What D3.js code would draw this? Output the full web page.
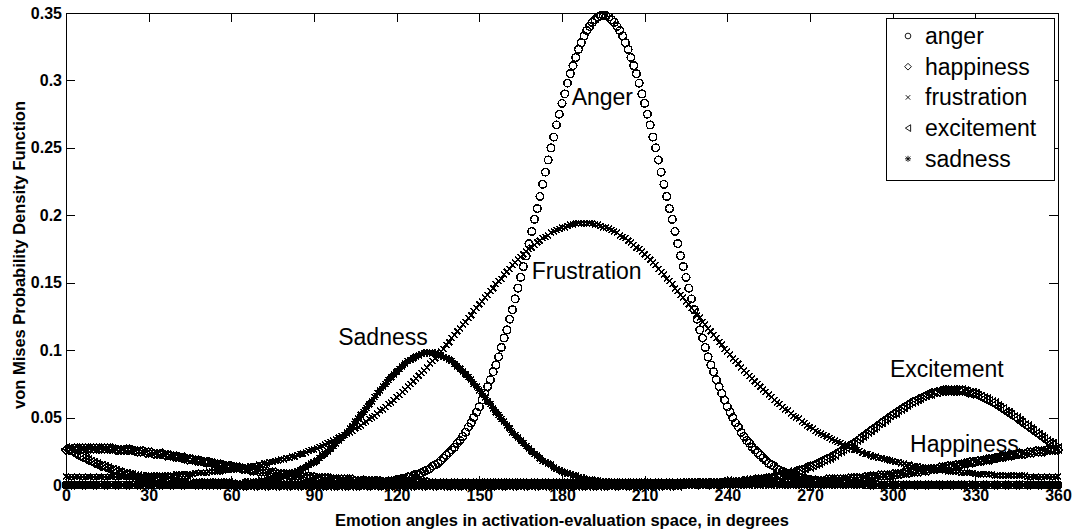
<!DOCTYPE html>
<html><head><meta charset="utf-8">
<script src="https://cdn.jsdelivr.net/npm/d3@7"></script>
<style>
html,body{margin:0;padding:0;background:#fff;}
svg{display:block;font-family:"Liberation Sans",Arial,Helvetica,sans-serif;}
</style></head><body>
<svg id="chart" width="1072" height="532"></svg>
<script>
// Emotion angle (degrees), one sample per degree
const angles = d3.range(0, 361);

const anger = [
0,0,0,0,0,0,0,0,0,0, 0,0,0,0,0,0,0,0,0,0, 0,0,0,0,0,0,0,0,0,0, 0,0,0,0,0,0,0,0,0,0, 0,0,0,0,0,0,0,0,0,0,
0,0,0,0,0,0,0,0,0,0, 0,0,0,0,0,0,0,0,0,0, 0,0,0,0,0,0,0,0,0,0, 0,0,0,0,0,0,0,0,0,0, 0,0,0,0,0,0,0,0,0,0,
0,.001,.001,.001,.001,.001,.001,.001,.001,.001,
.001,.001,.002,.002,.002,.002,.002,.003,.003,.003,
.004,.004,.005,.005,.006,.006,.007,.008,.008,.009,
.010,.011,.012,.014,.015,.016,.018,.020,.022,.024,
.026,.028,.031,.033,.036,.039,.043,.046,.050,.054,
.058,.063,.068,.073,.078,.084,.089,.095,.102,.109,
.115,.123,.130,.138,.146,.154,.162,.170,.179,.188,
.197,.205,.214,.223,.232,.241,.250,.258,.267,.275,
.283,.290,.298,.305,.311,.317,.323,.328,.333,.337,
.340,.343,.345,.347,.348,.348,.348,.347,.345,.343,
.340,.337,.333,.328,.323,.317,.311,.305,.298,.290,
.283,.275,.267,.258,.250,.241,.232,.223,.214,.205,
.197,.188,.179,.170,.162,.154,.146,.138,.130,.123,
.115,.109,.102,.095,.089,.084,.078,.073,.068,.063,
.058,.054,.050,.046,.043,.039,.036,.033,.031,.028,
.026,.024,.022,.020,.018,.016,.015,.014,.012,.011,
.010,.009,.008,.008,.007,.006,.006,.005,.005,.004,
.004,.003,.003,.003,.002,.002,.002,.002,.002,.001,
.001,.001,.001,.001,.001,.001,.001,.001,.001,.001,
0,0,0,0,0,0,0,0,0,0, 0,0,0,0,0,0,0,0,0,0, 0,0,0,0,0,0,0,0,0,0, 0,0,0,0,0,0,0,0,0,0,
0,0,0,0,0,0,0,0,0,0, 0,0,0,0,0,0,0,0,0,0, 0,0,0,0,0,0,0,0,0,0,
0];

const happiness = [
.026,.026,.026,.027,.027,.027,.027,.027,.027,.027,
.027,.027,.027,.027,.027,.027,.027,.027,.026,.026,
.026,.026,.026,.026,.026,.025,.025,.025,.025,.024,
.024,.024,.023,.023,.023,.023,.022,.022,.022,.021,
.021,.021,.020,.020,.019,.019,.019,.018,.018,.018,
.017,.017,.017,.016,.016,.015,.015,.015,.014,.014,
.014,.013,.013,.013,.012,.012,.012,.011,.011,.011,
.010,.010,.010,.010,.009,.009,.009,.008,.008,.008,
.008,.007,.007,.007,.007,.007,.006,.006,.006,.006,
.006,.005,.005,.005,.005,.005,.005,.004,.004,.004,
.004,.004,.004,.004,.004,.003,.003,.003,.003,.003,
.003,.003,.003,.003,.003,.002,.002,.002,.002,.002,
.002,.002,.002,.002,.002,.002,.002,.002,.002,.002,
.002,.002,.001,.001,.001,.001,.001,.001,.001,.001,
.001,.001,.001,.001,.001,.001,.001,.001,.001,.001,
.001,.001,.001,.001,.001,.001,.001,.001,.001,.001,
.001,.001,.001,.001,.001,.001,.001,.001,.001,.001,
.001,.001,.001,.001,.001,.001,.001,.001,.001,.001,
.001,.001,.001,.001,.001,.001,.001,.001,.001,.001,
.001,.001,.001,.001,.001,.001,.001,.001,.001,.001,
.001,.001,.001,.001,.001,.001,.001,.001,.001,.001,
.001,.001,.001,.001,.001,.001,.001,.001,.001,.001,
.001,.001,.001,.001,.001,.001,.001,.001,.001,.001,
.001,.001,.001,.001,.001,.001,.001,.001,.001,.001,
.001,.001,.001,.001,.001,.001,.001,.001,.001,.002,
.002,.002,.002,.002,.002,.002,.002,.002,.002,.002,
.002,.002,.002,.002,.002,.002,.003,.003,.003,.003,
.003,.003,.003,.003,.003,.003,.004,.004,.004,.004,
.004,.004,.004,.004,.005,.005,.005,.005,.005,.005,
.006,.006,.006,.006,.006,.007,.007,.007,.007,.007,
.008,.008,.008,.008,.009,.009,.009,.010,.010,.010,
.010,.011,.011,.011,.012,.012,.012,.013,.013,.013,
.014,.014,.014,.015,.015,.015,.016,.016,.017,.017,
.017,.018,.018,.018,.019,.019,.019,.020,.020,.021,
.021,.021,.022,.022,.022,.023,.023,.023,.023,.024,
.024,.024,.025,.025,.025,.025,.026,.026,.026,.026,
.026];

const frustration = [
.006,.006,.006,.006,.006,.006,.006,.006,.006,.006,
.006,.006,.006,.006,.006,.006,.006,.006,.006,.006,
.006,.006,.006,.006,.006,.006,.006,.006,.007,.007,
.007,.007,.007,.007,.007,.007,.007,.007,.007,.007,
.008,.008,.008,.008,.008,.008,.008,.009,.009,.009,
.009,.009,.010,.010,.010,.010,.010,.011,.011,.011,
.011,.012,.012,.012,.013,.013,.013,.014,.014,.014,
.015,.015,.016,.016,.017,.017,.018,.018,.019,.019,
.020,.020,.021,.021,.022,.023,.023,.024,.025,.026,
.026,.027,.028,.029,.030,.031,.032,.033,.034,.035,
.036,.037,.038,.039,.040,.042,.043,.044,.046,.047,
.049,.050,.051,.053,.055,.056,.058,.060,.061,.063,
.065,.067,.069,.071,.073,.075,.077,.079,.081,.083,
.085,.087,.090,.092,.094,.097,.099,.101,.104,.106,
.109,.111,.114,.116,.119,.121,.124,.126,.129,.131,
.134,.136,.139,.141,.144,.146,.149,.151,.153,.156,
.158,.160,.163,.165,.167,.169,.171,.173,.175,.176,
.178,.180,.181,.183,.184,.185,.187,.188,.189,.190,
.191,.191,.192,.193,.193,.194,.194,.194,.194,.194,
.194,.194,.193,.193,.192,.191,.191,.190,.189,.188,
.187,.185,.184,.183,.181,.180,.178,.176,.175,.173,
.171,.169,.167,.165,.163,.160,.158,.156,.153,.151,
.149,.146,.144,.141,.139,.136,.134,.131,.129,.126,
.124,.121,.119,.116,.114,.111,.109,.106,.104,.101,
.099,.097,.094,.092,.090,.087,.085,.083,.081,.079,
.077,.075,.073,.071,.069,.067,.065,.063,.061,.060,
.058,.056,.055,.053,.051,.050,.049,.047,.046,.044,
.043,.042,.040,.039,.038,.037,.036,.035,.034,.033,
.032,.031,.030,.029,.028,.027,.026,.026,.025,.024,
.023,.023,.022,.021,.021,.020,.020,.019,.019,.018,
.018,.017,.017,.016,.016,.015,.015,.014,.014,.014,
.013,.013,.013,.012,.012,.012,.011,.011,.011,.011,
.010,.010,.010,.010,.010,.009,.009,.009,.009,.009,
.008,.008,.008,.008,.008,.008,.008,.007,.007,.007,
.007,.007,.007,.007,.007,.007,.007,.007,.007,.006,
.006,.006,.006,.006,.006,.006,.006,.006,.006,.006,
.006];

const excitement = [
.027,.026,.025,.023,.022,.021,.020,.019,.018,.017,
.016,.015,.014,.014,.013,.012,.011,.011,.010,.009,
.009,.008,.008,.007,.007,.006,.006,.005,.005,.005,
.004,.004,.004,.004,.003,.003,.003,.003,.002,.002,
.002,.002,.002,.002,.002,.001,.001,.001,.001,.001,
.001,.001,.001,.001,.001,.001,.001,.001,.001,.001,
0,0,0,0,0,0,0,0,0,0, 0,0,0,0,0,0,0,0,0,0, 0,0,0,0,0,0,0,0,0,0, 0,0,0,0,0,0,0,0,0,0,
0,0,0,0,0,0,0,0,0,0, 0,0,0,0,0,0,0,0,0,0, 0,0,0,0,0,0,0,0,0,0, 0,0,0,0,0,0,0,0,0,0,
0,0,0,0,0,0,0,0,0,0, 0,0,0,0,0,0,0,0,0,0, 0,0,0,0,0,0,0,0,0,0, 0,0,0,0,0,0,0,0,0,0,
0,0,0,0,0,0,0,0,0,0, 0,0,0,0,0,0,0,0,0,0, 0,0,0,0,0,0,0,0,0,0, 0,0,0,0,0,0,0,0,0,0,
0,0,0,.001,.001,.001,.001,.001,.001,.001,
.001,.001,.001,.001,.001,.001,.001,.001,.002,.002,
.002,.002,.002,.002,.002,.003,.003,.003,.003,.004,
.004,.004,.004,.005,.005,.005,.006,.006,.007,.007,
.008,.008,.009,.009,.010,.011,.011,.012,.013,.014,
.014,.015,.016,.017,.018,.019,.020,.021,.022,.023,
.025,.026,.027,.028,.030,.031,.032,.034,.035,.037,
.038,.040,.041,.043,.044,.046,.047,.049,.050,.052,
.053,.054,.056,.057,.058,.060,.061,.062,.063,.064,
.065,.066,.067,.068,.068,.069,.069,.070,.070,.070,
.070,.070,.070,.070,.070,.070,.069,.069,.068,.068,
.067,.066,.065,.064,.063,.062,.061,.060,.058,.057,
.056,.054,.053,.052,.050,.049,.047,.046,.044,.043,
.041,.040,.038,.037,.035,.034,.032,.031,.030,.028,
.027];

const sadness = [
0,0,0,0,0,0,0,0,0,0, 0,0,0,0,0,0,0,0,0,0, 0,0,0,0,0,0,0,0,0,0, 0,0,0,0,0,0,0,0,0,0, 0,0,0,0,0,0,0,0,0,0,
0,0,0,0,0,.001,.001,.001,.001,.001,
.001,.001,.001,.001,.001,.002,.002,.002,.002,.002,
.003,.003,.003,.004,.004,.004,.005,.005,.006,.007,
.007,.008,.009,.009,.010,.011,.012,.013,.015,.016,
.017,.018,.020,.022,.023,.025,.027,.029,.031,.033,
.035,.037,.039,.042,.044,.047,.049,.052,.054,.057,
.060,.062,.065,.068,.070,.073,.075,.078,.080,.082,
.084,.086,.088,.090,.092,.093,.094,.095,.096,.097,
.098,.098,.098,.098,.098,.097,.096,.095,.094,.093,
.092,.090,.088,.086,.084,.082,.080,.078,.075,.073,
.070,.068,.065,.062,.060,.057,.054,.052,.049,.047,
.044,.042,.039,.037,.035,.033,.031,.029,.027,.025,
.023,.022,.020,.018,.017,.016,.015,.013,.012,.011,
.010,.009,.009,.008,.007,.007,.006,.005,.005,.004,
.004,.004,.003,.003,.003,.002,.002,.002,.002,.002,
.001,.001,.001,.001,.001,.001,.001,.001,.001,.001,
0,0,0,0,0,0,0,0,0,0, 0,0,0,0,0,0,0,0,0,0, 0,0,0,0,0,0,0,0,0,0, 0,0,0,0,0,0,0,0,0,0, 0,0,0,0,0,0,0,0,0,0,
0,0,0,0,0,0,0,0,0,0, 0,0,0,0,0,0,0,0,0,0, 0,0,0,0,0,0,0,0,0,0, 0,0,0,0,0,0,0,0,0,0, 0,0,0,0,0,0,0,0,0,0,
0,0,0,0,0,0,0,0,0,0, 0,0,0,0,0,0,0,0,0,0, 0,0,0,0,0,0,0,0,0,0, 0,0,0,0,0,0,0,0,0,0, 0,0,0,0,0,0,0,0,0,0,
0];

const seriesNames = ['anger', 'happiness', 'frustration', 'excitement', 'sadness'];
const seriesValues = [anger, happiness, frustration, excitement, sadness];
const seriesMarkers = ['circle', 'diamond', 'x', 'triangleLeft', 'asterisk'];

const annotationText = ['Anger', 'Frustration', 'Sadness', 'Excitement', 'Happiness'];
const annotationAngle = [183.5, 169.0, 98.8, 299.0, 306.3];
const annotationValue = [0.2818, 0.1525, 0.1038, 0.0803, 0.0247];

const xTicks = [0, 30, 60, 90, 120, 150, 180, 210, 240, 270, 300, 330, 360];
const yTicks = [0, 0.05, 0.1, 0.15, 0.2, 0.25, 0.3, 0.35];
const yTickLabels = ['0', '0.05', '0.1', '0.15', '0.2', '0.25', '0.3', '0.35'];
const xTitle = 'Emotion angles in activation-evaluation space, in degrees';
const yTitle = 'von Mises Probability Density Function';

// ---------- drawing ----------
const svg = d3.select('#chart');
const L = 66, R = 1058, T = 13, B = 485;
const x = d3.scaleLinear().domain([0, 360]).range([L, R]);
const y = d3.scaleLinear().domain([0, 0.35]).range([B, T]);

const markerPaths = {
  diamond: 'M0,-4.5L4.5,0L0,4.5L-4.5,0Z',
  x: 'M-3,-3L3,3M-3,3L3,-3',
  triangleLeft: 'M-3.5,0L3.5,-4.5L3.5,4.5Z',
  asterisk: 'M0,-4V4M-4,0H4M-3,-3L3,3M-3,3L3,-3'
};
function drawMarker(sel, type) {
  if (type === 'circle') {
    sel.append('circle').attr('r', 3.8);
  } else {
    sel.append('path').attr('d', markerPaths[type]);
  }
}

svg.append('rect').attr('x', 0).attr('y', 0).attr('width', 1072).attr('height', 532).attr('fill', '#fff');

// data markers
seriesNames.forEach((name, si) => {
  const vals = seriesValues[si];
  const g = svg.append('g').attr('class', 'series-' + name)
    .attr('fill', 'none').attr('stroke', '#000').attr('stroke-width', 1.5)
    .attr('shape-rendering', 'crispEdges');
  const pts = g.selectAll('g.pt').data(vals.map((v, i) => [angles[i], v]))
    .join('g').attr('class', 'pt')
    .attr('transform', d => `translate(${x(d[0])},${y(d[1])})`);
  pts.each(function () { drawMarker(d3.select(this), seriesMarkers[si]); });
});

// axes
const axisStyle = g => {
  g.selectAll('path.domain').attr('stroke', '#000').attr('shape-rendering', 'crispEdges');
  g.selectAll('.tick line').attr('stroke', '#000').attr('shape-rendering', 'crispEdges');
  g.selectAll('.tick text').attr('fill', '#000').attr('font-size', 16).attr('font-weight', 'bold')
    .attr('font-family', '"Liberation Sans",Arial,Helvetica,sans-serif');
};
svg.append('g').attr('transform', `translate(0,${B})`)
  .call(d3.axisBottom(x).tickValues(xTicks).tickSizeInner(-9).tickSizeOuter(0).tickPadding(5).tickFormat(d3.format('d')))
  .call(axisStyle);
svg.append('g').attr('transform', `translate(0,${T})`)
  .call(d3.axisTop(x).tickValues(xTicks).tickSizeInner(-9).tickSizeOuter(0).tickFormat(''))
  .call(axisStyle);
svg.append('g').attr('transform', `translate(${L},0)`)
  .call(d3.axisLeft(y).tickValues(yTicks).tickSizeInner(-9).tickSizeOuter(0).tickPadding(4)
    .tickFormat((d, i) => yTickLabels[i]))
  .call(axisStyle);
svg.append('g').attr('transform', `translate(${R},0)`)
  .call(d3.axisRight(y).tickValues(yTicks).tickSizeInner(-9).tickSizeOuter(0).tickFormat(''))
  .call(axisStyle);

// axis titles
svg.append('text').attr('x', (L + R) / 2).attr('y', 526).attr('text-anchor', 'middle')
  .attr('font-size', 16.5).attr('font-weight', 'bold').text(xTitle);
svg.append('text').attr('transform', `translate(25,255) rotate(-90)`).attr('text-anchor', 'middle')
  .attr('font-size', 16.5).attr('font-weight', 'bold').text(yTitle);

// annotations
svg.append('g').selectAll('text').data(annotationText).join('text')
  .attr('x', (d, i) => x(annotationAngle[i]))
  .attr('y', (d, i) => y(annotationValue[i]))
  .attr('font-size', 23).attr('fill', '#000').text(d => d);

// legend
const lg = svg.append('g');
lg.append('rect').attr('x', 886.5).attr('y', 18.5).attr('width', 168).attr('height', 162)
  .attr('fill', '#fff').attr('stroke', '#000').attr('shape-rendering', 'crispEdges');
seriesNames.forEach((name, i) => {
  const by = 44 + i * 30.7;
  const m = lg.append('g').attr('transform', `translate(908,${by - 8}) scale(0.75)`)
    .attr('fill', 'none').attr('stroke', '#000').attr('stroke-width', 1.2);
  drawMarker(m, seriesMarkers[i]);
  lg.append('text').attr('x', 925).attr('y', by).attr('font-size', 23).text(name);
});
</script>
</body></html>
